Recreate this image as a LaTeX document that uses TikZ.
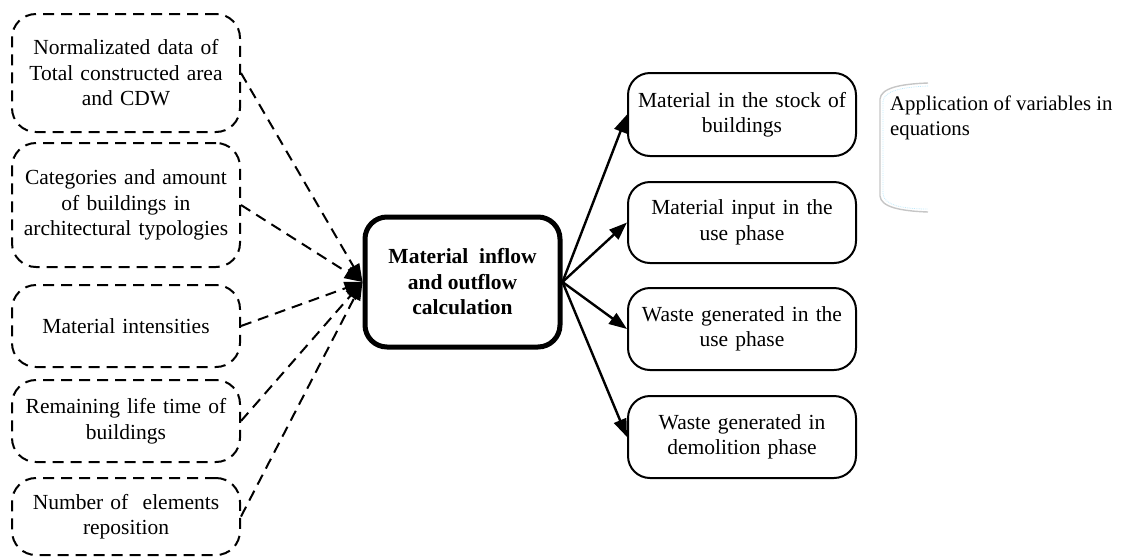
\documentclass[tikz,border=0pt]{standalone}
\usepackage{fontspec}
\setmainfont{Liberation Serif}
\usetikzlibrary{arrows.meta}
\begin{document}
\begin{tikzpicture}[x=1pt,y=-1pt,
  every node/.style={font=\fontsize{21.5}{25.5}\selectfont, align=center, inner sep=0pt},
  inbox/.style={draw, line width=2pt, dash pattern=on 11pt off 7pt, rounded corners=24pt,
    minimum width=228pt, text width=220pt},
  outbox/.style={draw, line width=2pt, rounded corners=22pt, minimum width=228pt, text width=220pt},
  calcbox/.style={draw, line width=5pt, rounded corners=22pt, minimum width=195pt,
    minimum height=130pt, font=\fontsize{21.5}{25.5}\selectfont\bfseries},
  inarrow/.style={line width=2pt, dash pattern=on 11pt off 7pt, -{Triangle[length=18pt,width=13pt]}},
  outarrow/.style={line width=2.4pt, -{Triangle[length=18pt,width=13pt]}},
  brace/.style={draw=gray!45, line width=1.4pt}
]
\useasboundingbox (0,0) rectangle (1122,558);

% input data
\node[inbox, minimum height=118pt] (in1) at (126,73) {Normalizated data of\\Total constructed area\\and CDW};
\node[inbox, minimum height=124pt] (in2) at (126,205) {Categories and amount\\of buildings in\\architectural typologies};
\node[inbox, minimum height=82pt] (in3) at (126,326) {Material intensities};
\node[inbox, minimum height=82pt] (in4) at (126,421) {Remaining life time of\\buildings};
\node[inbox, minimum height=77pt] (in5) at (126,516.5) {Number of~ elements\\reposition};

% calculation
\node[calcbox] (calc) at (462.5,282) {Material~ inflow\\and outflow\\calculation};

% results
\node[outbox, minimum height=83pt] (out1) at (742,114.5) {Material in the stock of\\buildings};
\node[outbox, minimum height=81pt] (out2) at (742,222.5) {Material input in the\\use phase};
\node[outbox, minimum height=82pt] (out3) at (742,329) {Waste generated in the\\use phase};
\node[outbox, minimum height=82pt] (out4) at (742,437) {Waste generated in\\demolition phase};

% annotation
\draw[brace] (928,83) .. controls (900,84) and (881,88) .. (880,99) -- (880,196) .. controls (881,207) and (900,211) .. (928,212);
\draw[draw=cyan!25, line width=0.8pt, densely dotted] (928,86) .. controls (902,87) and (884,91) .. (883,101) -- (883,194) .. controls (884,205) and (902,209) .. (928,209);
\node[anchor=north west, align=left, font=\fontsize{20.8}{25}\selectfont] (note) at (890,96) {Application of variables in\\equations};

% connectors
\foreach \n in {in1,in2,in3,in4,in5}
  \draw[inarrow] (\n.east) -- (calc.west);
\foreach \n in {out1,out2,out3,out4}
  \draw[outarrow] (calc.east) -- (\n.west);
\end{tikzpicture}
\end{document}
